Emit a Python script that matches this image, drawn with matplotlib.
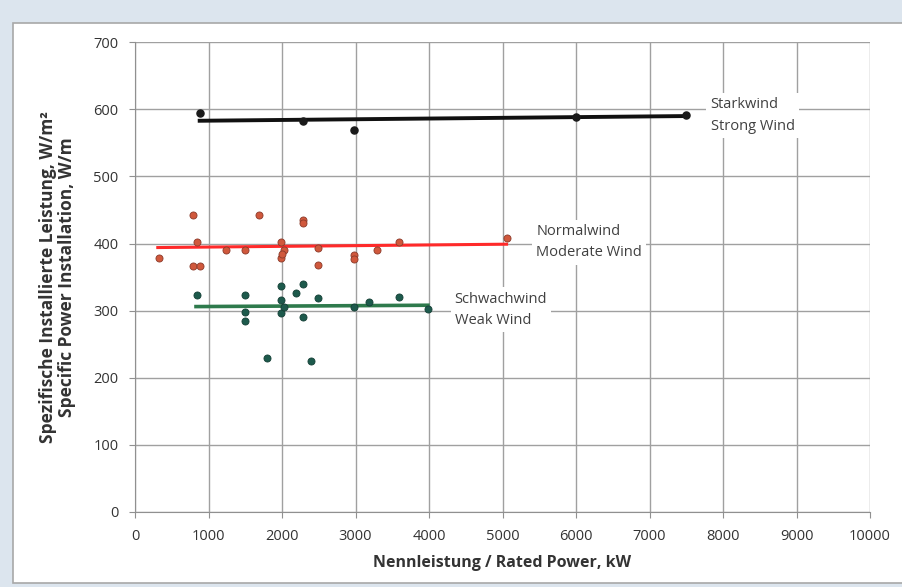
import matplotlib
matplotlib.use("Agg")
import matplotlib.pyplot as plt
from matplotlib.patches import Rectangle

# Starkwind / Strong Wind
strong_kw = [880, 2290, 2985, 6000, 7490]
strong_wm = [594, 583, 569, 589, 591]
strong_fit_kw = [880, 7490]
strong_fit_wm = [583, 590]

# Normalwind / Moderate Wind
moderate_kw = [320, 790, 840, 790, 885, 1240, 1490, 1690, 1990, 2030, 1990,
               2000, 2290, 2290, 2495, 2495, 2985, 2985, 3290, 3595, 5055]
moderate_wm = [379, 442, 402, 366, 366, 390, 390, 442, 402, 391, 378,
               385, 435, 431, 394, 368, 383, 377, 391, 402, 408]
moderate_fit_kw = [310, 5055]
moderate_fit_wm = [394, 399]

# Schwachwind / Weak Wind
weak_kw = [840, 1490, 1490, 1490, 1990, 1990, 1990, 2030, 2190, 2290, 2290,
           2495, 1790, 2395, 2985, 3190, 3595, 3985]
weak_wm = [323, 323, 298, 284, 337, 316, 296, 306, 326, 339, 290,
           319, 230, 225, 306, 313, 320, 303]
weak_fit_kw = [830, 3985]
weak_fit_wm = [306, 308]

labels = ["Starkwind\nStrong Wind", "Normalwind\nModerate Wind",
          "Schwachwind\nWeak Wind"]
label_pos = [(7830, 591), (5460, 402), (4350, 301)]

FONT = "Open Sans"
plt.rcParams["font.family"] = [FONT, "DejaVu Sans"]

fig = plt.figure(figsize=(9.03, 5.87), dpi=100, facecolor="#dce5ee")
# white chart area inside the blue frame
fig.patches.append(Rectangle((13 / 903, 4 / 587), 1, 560 / 587,
                             transform=fig.transFigure, facecolor="white",
                             edgecolor="#a8a8a8", lw=1.2, zorder=-10))

ax = fig.add_axes([0.1495, 0.128, 0.814, 0.8])
ax.set_zorder(1)
ax.set_facecolor("white")
ax.set_xlim(0, 10000)
ax.set_ylim(0, 700)
ax.set_xticks(range(0, 10001, 1000))
ax.set_yticks(range(0, 701, 100))
ax.grid(True, color="#a0a0a0", lw=1.0)
ax.set_axisbelow(True)
for s in ("top", "right"):
    ax.spines[s].set_visible(False)
for s in ("left", "bottom"):
    ax.spines[s].set_color("#909090")
ax.tick_params(colors="#909090", labelcolor="#333333", labelsize=10.5,
               length=4, pad=8)

ax.plot(strong_fit_kw, strong_fit_wm, color="#111111", lw=2.8, zorder=2)
ax.plot(moderate_fit_kw, moderate_fit_wm, color="#ff2a2a", lw=2.2, zorder=2)
ax.plot(weak_fit_kw, weak_fit_wm, color="#2e7a4c", lw=2.6, zorder=2)

ax.scatter(strong_kw, strong_wm, s=26, color="#1a1a1a", zorder=3)
ax.scatter(moderate_kw, moderate_wm, s=26, color="#d0583c",
           edgecolor="#8a3a2a", lw=0.6, zorder=3)
ax.scatter(weak_kw, weak_wm, s=26, color="#1d5a4c", edgecolor="#153f36",
           lw=0.6, zorder=3)

for txt, (x, y) in zip(labels, label_pos):
    ax.text(x, y, txt, ha="left", va="center", fontsize=10.5,
            color="#404040", linespacing=1.6, zorder=4,
            bbox=dict(facecolor="white", edgecolor="none", pad=3))

ax.set_xlabel("Nennleistung / Rated Power, kW", fontsize=11.5,
              fontweight="bold", color="#333333", labelpad=8)
ax.set_ylabel("Spezifische Installierte Leistung, W/m²\n"
              "Specific Power Installation, W/m", fontsize=12.5,
              fontweight="bold", color="#333333", labelpad=12,
              linespacing=1.1)

fig.savefig("out.png", dpi=100, facecolor=fig.get_facecolor())
